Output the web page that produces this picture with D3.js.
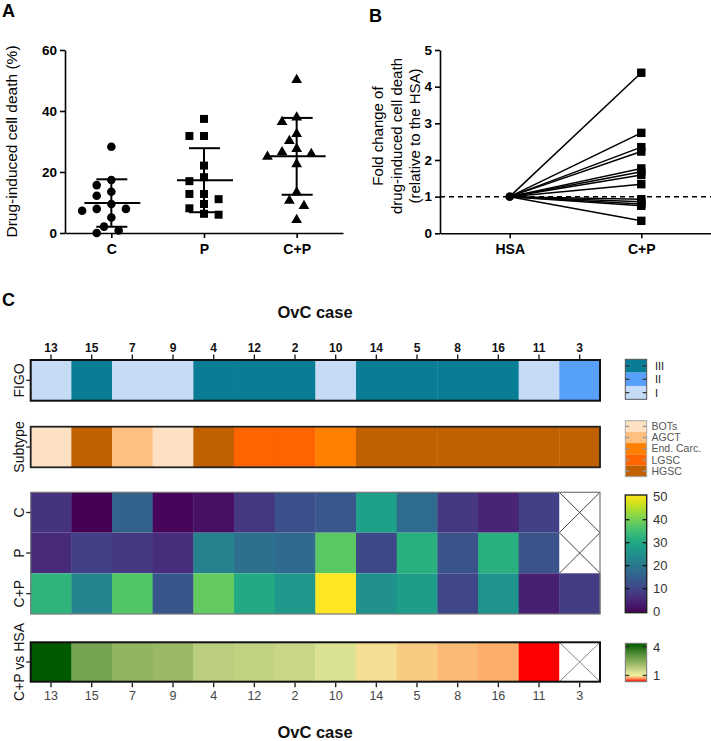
<!DOCTYPE html>
<html>
<head>
<meta charset="utf-8">
<script src="https://cdn.jsdelivr.net/npm/d3@7"></script>
<style>
  body { margin: 0; background: #fff; }
  svg { display: block; font-family: "Liberation Sans", Arial, sans-serif; }
</style>
</head>
<body>
<svg id="chart" width="711" height="741"></svg>
<script>
// ---------------- DATA ----------------
const cases   = ["13","15","7","9","4","12","2","10","14","5","8","16","11","3"];
const figo    = ["I","III","I","I","III","III","III","I","III","III","III","III","I","II"];
const subtype = ["BOTs","HGSC","AGCT","BOTs","HGSC","LGSC","LGSC","End. Carc.","HGSC","HGSC","HGSC","HGSC","HGSC","HGSC"];
const deathC  = [7.3, 0.0, 15.7, 0.8, 2.1, 7.9, 12.2, 13.5, 28.3, 17.4, 7.9, 5.1, 9.5, null];
const deathP  = [6.0, 9.5, 8.1, 6.3, 22.1, 18.3, 17.0, 37.4, 11.1, 31.8, 12.8, 31.8, 12.8, null];
const deathCP = [32.5, 22.6, 36.4, 13.3, 37.9, 30.2, 26.5, 50.2, 25.0, 27.6, 10.6, 25.9, 4.3, 8.9];
const foldHSA = [4.38, 2.74, 2.35, 2.23, 1.77, 1.68, 1.59, 1.34, 0.93, 0.86, 0.80, 0.75, 0.34, null];

const groupsA   = ["C", "P", "C+P"];
const ticksA    = [0, 20, 40, 60];
const groupsB   = ["HSA", "C+P"];
const ticksB    = [0, 1, 2, 3, 4, 5];
const figoLevels = ["III", "II", "I"];
const subtypeLevels = ["BOTs", "AGCT", "End. Carc.", "LGSC", "HGSC"];
const viridisTicks = [0, 10, 20, 30, 40, 50];
const foldTicks = [1, 4];

// ---------------- SETUP ----------------
const svg = d3.select("#chart");
const FONT = '"Liberation Sans", Arial, sans-serif';

function styleAxis(g, opts = {}) {
  g.select(".domain").attr("stroke", "#000").attr("stroke-width", 1.6);
  g.selectAll(".tick line").attr("stroke", "#000").attr("stroke-width", 1.6);
  g.selectAll(".tick text").attr("fill", "#000").attr("font-weight", "bold")
    .attr("font-size", opts.size || 13.5).attr("font-family", FONT);
}

function swarm(vals, yScale, cx, step, minDist) {
  const pts = vals.map(v => ({ v, y: yScale(v) })).sort((a, b) => a.y - b.y);
  const placed = [];
  for (const p of pts) {
    for (let k = 0; k < 30; k++) {
      const off = (k === 0 ? 0 : (k % 2 === 1 ? -1 : 1) * Math.ceil(k / 2)) * step;
      if (placed.every(q => Math.hypot(q.x - (cx + off), q.y - p.y) >= minDist)) { p.x = cx + off; break; }
    }
    placed.push(p);
  }
  return placed;
}

// ---------------- PANEL A ----------------
const xA = d3.scalePoint().domain(groupsA).range([65, 343]).padding(0.5);
const yA = d3.scaleLinear().domain([0, 60]).range([233, 50]);

svg.append("text").attr("x", 2).attr("y", 17).text("A")
  .attr("font-size", 18).attr("font-weight", "bold");

const gxA = svg.append("g").attr("transform", "translate(0,233)")
  .call(d3.axisBottom(xA).tickSize(5).tickPadding(6).tickSizeOuter(0));
styleAxis(gxA, { size: 14 });
const gyA = svg.append("g").attr("transform", "translate(65,0)")
  .call(d3.axisLeft(yA).tickValues(ticksA).tickSize(5).tickPadding(3).tickSizeOuter(0));
styleAxis(gyA, { size: 13.5 });

svg.append("text")
  .attr("transform", `translate(17,${(50 + 233) / 2}) rotate(-90)`)
  .attr("text-anchor", "middle").attr("font-size", 15.5).attr("fill", "#000")
  .text("Drug-induced cell death (%)");

const seriesA = [deathC, deathP, deathCP].map(a => a.filter(v => v !== null));
const symA = [d3.symbolCircle, d3.symbolSquare, d3.symbolTriangle];
const symSize = [58, 64, 50];

seriesA.forEach((vals, i) => {
  const cx = xA(groupsA[i]);
  const pts = swarm(vals, yA, cx, 7.3, 9.6);
  svg.append("g").selectAll("path").data(pts).join("path")
    .attr("transform", d => `translate(${d.x},${d.y})`)
    .attr("d", d3.symbol().type(symA[i]).size(symSize[i]))
    .attr("fill", "#000");
  const m = d3.mean(vals), sd = d3.deviation(vals);
  const eb = svg.append("g").attr("stroke", "#000").attr("stroke-width", 2).attr("fill", "none");
  eb.append("line").attr("x1", cx - 27).attr("x2", cx + 29).attr("y1", yA(m)).attr("y2", yA(m));
  eb.append("line").attr("x1", cx).attr("x2", cx).attr("y1", yA(m - sd)).attr("y2", yA(m + sd));
  eb.append("line").attr("x1", cx - 15).attr("x2", cx + 16).attr("y1", yA(m + sd)).attr("y2", yA(m + sd));
  eb.append("line").attr("x1", cx - 15).attr("x2", cx + 16).attr("y1", yA(m - sd)).attr("y2", yA(m - sd));
});

// ---------------- PANEL B ----------------
const xB = d3.scalePoint().domain(groupsB).range([440, 711]).padding(0.53);
const yB = d3.scaleLinear().domain([0, 5]).range([233.3, 50]);

svg.append("text").attr("x", 369).attr("y", 22).text("B")
  .attr("font-size", 18).attr("font-weight", "bold");

const gxB = svg.append("g").attr("transform", "translate(0,233.3)")
  .call(d3.axisBottom(xB).tickSize(5).tickPadding(6).tickSizeOuter(0));
styleAxis(gxB, { size: 14 });
const gyB = svg.append("g").attr("transform", "translate(440,0)")
  .call(d3.axisLeft(yB).tickValues(ticksB).tickFormat(d3.format("d")).tickSize(5).tickPadding(3).tickSizeOuter(0));
styleAxis(gyB, { size: 13.5 });

const titleB = ["Fold change of", "drug-induced cell death", "(relative to the HSA)"];
titleB.forEach((t, i) => {
  svg.append("text")
    .attr("transform", `translate(${383 + i * 18.5},${136}) rotate(-90)`)
    .attr("text-anchor", "middle").attr("font-size", 15).attr("fill", "#000").text(t);
});

svg.append("line").attr("x1", 440).attr("x2", 711).attr("y1", yB(1)).attr("y2", yB(1))
  .attr("stroke", "#000").attr("stroke-width", 1.5).attr("stroke-dasharray", "5,4");

const foldVals = foldHSA.filter(v => v !== null);
svg.append("g").selectAll("line").data(foldVals).join("line")
  .attr("x1", xB("HSA")).attr("y1", yB(1))
  .attr("x2", xB("C+P")).attr("y2", d => yB(d))
  .attr("stroke", "#000").attr("stroke-width", 1.5);
svg.append("g").selectAll("rect").data(foldVals).join("rect")
  .attr("x", xB("C+P") - 4.2).attr("y", d => yB(d) - 4.2)
  .attr("width", 8.4).attr("height", 8.4).attr("fill", "#000");
svg.append("circle").attr("cx", xB("HSA")).attr("cy", yB(1)).attr("r", 4.3).attr("fill", "#000");

// ---------------- PANEL C (heatmaps) ----------------
svg.append("text").attr("x", 2).attr("y", 306).text("C")
  .attr("font-size", 18).attr("font-weight", "bold");

const xH = d3.scaleBand().domain(cases).range([30.7, 600]).padding(0);
const bw = xH.bandwidth();

svg.append("text").attr("x", 315).attr("y", 318).attr("text-anchor", "middle")
  .attr("font-size", 16.5).attr("font-weight", "bold").attr("fill", "#111").text("OvC case");
svg.append("text").attr("x", 315).attr("y", 738).attr("text-anchor", "middle")
  .attr("font-size", 16.5).attr("font-weight", "bold").attr("fill", "#111").text("OvC case");

const figoColor = d3.scaleOrdinal().domain(["I", "II", "III"]).range(["#c6dcf6", "#56a0fa", "#0a7d96"]);
const subColor = d3.scaleOrdinal().domain(subtypeLevels)
  .range(["#fee0c2", "#ffbf80", "#ff8000", "#ff6400", "#c06000"]);
const vir = d3.scaleSequential(d3.interpolateViridis).domain([0, 50]);
const foldColor = d3.scaleLinear().domain([0.34, 0.75, 1, 4.38])
  .range(["#ff0000", "#fdae6b", "#f2f0a2", "#005a00"]);

const rowY = {
  FIGO: [360, 400.7],
  Subtype: [426.7, 467.3],
  C: [492.3, 532.7],
  P: [532.7, 573.3],
  "C+P": [573.3, 614],
  fold: [642.3, 681.7]
};

function drawCells(key, vals, colorFn, naStroke) {
  const [y0, y1] = rowY[key];
  const g = svg.append("g");
  vals.forEach((v, i) => {
    const x = xH(cases[i]);
    if (v === null) {
      g.append("rect").attr("x", x).attr("y", y0).attr("width", bw).attr("height", y1 - y0).attr("fill", "#fff");
      g.append("line").attr("x1", x).attr("y1", y0).attr("x2", x + bw).attr("y2", y1)
        .attr("stroke", naStroke).attr("stroke-width", 1);
      g.append("line").attr("x1", x + bw).attr("y1", y0).attr("x2", x).attr("y2", y1)
        .attr("stroke", naStroke).attr("stroke-width", 1);
    } else {
      g.append("rect").attr("x", x).attr("y", y0).attr("width", bw + 0.4).attr("height", y1 - y0)
        .attr("fill", colorFn(v));
    }
  });
}

drawCells("FIGO", figo, figoColor, "#444");
drawCells("Subtype", subtype, subColor, "#444");
drawCells("C", deathC, vir, "#444");
drawCells("P", deathP, vir, "#444");
drawCells("C+P", deathCP, vir, "#444");
drawCells("fold", foldHSA, foldColor, "#888");

function frame(y0, y1, stroke, w) {
  svg.append("rect").attr("x", 30.7).attr("y", y0).attr("width", 600 - 30.7).attr("height", y1 - y0)
    .attr("fill", "none").attr("stroke", stroke).attr("stroke-width", w);
}
frame(rowY.FIGO[0], rowY.FIGO[1], "#111", 2);
frame(rowY.Subtype[0], rowY.Subtype[1], "#222", 1.8);
frame(rowY.C[0], rowY["C+P"][1], "#777", 1.2);
frame(rowY.fold[0], rowY.fold[1], "#111", 2);

// top axis
const gTop = svg.append("g").attr("transform", `translate(0,${rowY.FIGO[0] - 1})`)
  .call(d3.axisTop(xH).tickSize(4.5).tickPadding(3));
gTop.select(".domain").remove();
gTop.selectAll(".tick line").attr("stroke", "#222").attr("stroke-width", 1.4);
gTop.selectAll(".tick text").attr("font-size", 12).attr("font-weight", "bold").attr("fill", "#111")
  .attr("font-family", FONT);

// bottom axis
const gBot = svg.append("g").attr("transform", `translate(0,${rowY.fold[1] + 1})`)
  .call(d3.axisBottom(xH).tickSize(4.5).tickPadding(4));
gBot.select(".domain").remove();
gBot.selectAll(".tick line").attr("stroke", "#222").attr("stroke-width", 1.4);
gBot.selectAll(".tick text").attr("font-size", 12.5).attr("fill", "#444").attr("font-family", FONT);

// row labels + left ticks
const rowLabels = [
  { key: "FIGO", text: "FIGO" },
  { key: "Subtype", text: "Subtype" },
  { key: "C", text: "C" },
  { key: "P", text: "P" },
  { key: "C+P", text: "C+P" },
  { key: "fold", text: "C+P vs HSA" }
];
rowLabels.forEach(r => {
  const yc = (rowY[r.key][0] + rowY[r.key][1]) / 2;
  svg.append("line").attr("x1", 26.2).attr("x2", 30.7).attr("y1", yc).attr("y2", yc)
    .attr("stroke", "#222").attr("stroke-width", 1.3);
  svg.append("text").attr("transform", `translate(23.5,${yc}) rotate(-90)`)
    .attr("text-anchor", "middle").attr("font-size", 14).attr("fill", "#111").text(r.text);
});

// ---------------- LEGENDS ----------------
const LX = 625.3, LW = 21.4;

function legendTicks(ys, color) {
  ys.forEach(y => {
    svg.append("line").attr("x1", LX).attr("x2", LX + 4).attr("y1", y).attr("y2", y)
      .attr("stroke", color).attr("stroke-width", 1.3);
    svg.append("line").attr("x1", LX + LW - 4).attr("x2", LX + LW).attr("y1", y).attr("y2", y)
      .attr("stroke", color).attr("stroke-width", 1.3);
  });
}

// FIGO legend
const yF = d3.scaleBand().domain(figoLevels).range([359.3, 399.3]);
svg.append("g").selectAll("rect").data(figoLevels).join("rect")
  .attr("x", LX).attr("y", d => yF(d)).attr("width", LW).attr("height", yF.bandwidth())
  .attr("fill", d => figoColor(d));
svg.append("rect").attr("x", LX).attr("y", 359.3).attr("width", LW).attr("height", 40)
  .attr("fill", "none").attr("stroke", "#555").attr("stroke-width", 1);
legendTicks(figoLevels.map(d => yF(d) + yF.bandwidth() / 2), "#333");
svg.append("g").selectAll("text").data(figoLevels).join("text")
  .attr("x", 655).attr("y", d => yF(d) + yF.bandwidth() / 2).attr("dy", "0.36em")
  .attr("font-size", 11).attr("fill", "#222").text(d => d);

// Subtype legend
const yS = d3.scaleBand().domain(subtypeLevels).range([420.7, 476.7]);
svg.append("g").selectAll("rect").data(subtypeLevels).join("rect")
  .attr("x", LX).attr("y", d => yS(d)).attr("width", LW).attr("height", yS.bandwidth())
  .attr("fill", d => subColor(d));
svg.append("rect").attr("x", LX).attr("y", 420.7).attr("width", LW).attr("height", 56)
  .attr("fill", "none").attr("stroke", "#aaa").attr("stroke-width", 1);
legendTicks(subtypeLevels.map(d => yS(d) + yS.bandwidth() / 2), "#999");
svg.append("g").selectAll("text").data(subtypeLevels).join("text")
  .attr("x", 651.5).attr("y", d => yS(d) + yS.bandwidth() / 2).attr("dy", "0.36em")
  .attr("font-size", 10.5).attr("fill", "#555").text(d => d);

// Viridis colorbar
const defs = svg.append("defs");
const gv = defs.append("linearGradient").attr("id", "gradVir")
  .attr("x1", 0).attr("y1", 1).attr("x2", 0).attr("y2", 0);
d3.range(0, 51, 2.5).forEach(v => {
  gv.append("stop").attr("offset", v / 50).attr("stop-color", vir(v));
});
const yV = d3.scaleLinear().domain([0, 50]).range([611.7, 496.7]);
svg.append("rect").attr("x", LX).attr("y", 495).attr("width", LW).attr("height", 117.7)
  .attr("fill", "url(#gradVir)").attr("stroke", "#222").attr("stroke-width", 1.4);
legendTicks([10, 20, 30, 40].map(yV), "#111");
svg.append("g").selectAll("text").data(viridisTicks).join("text")
  .attr("x", 653).attr("y", d => yV(d)).attr("dy", "0.36em")
  .attr("font-size", 13).attr("fill", "#333").text(d => d);

// Fold colorbar
const yFold = d3.scaleLinear().domain([0.34, 4.38]).range([681.7, 643.3]);
const gf = defs.append("linearGradient").attr("id", "gradFold")
  .attr("x1", 0).attr("y1", 1).attr("x2", 0).attr("y2", 0);
d3.range(0, 1.0001, 0.02).forEach(t => {
  const v = 0.34 + t * (4.38 - 0.34);
  gf.append("stop").attr("offset", t).attr("stop-color", foldColor(v));
});
svg.append("rect").attr("x", LX).attr("y", 643.3).attr("width", LW).attr("height", 38.4)
  .attr("fill", "url(#gradFold)").attr("stroke", "#777").attr("stroke-width", 1);
legendTicks(foldTicks.map(yFold), "#333");
svg.append("g").selectAll("text").data(foldTicks).join("text")
  .attr("x", 653).attr("y", d => yFold(d)).attr("dy", "0.36em")
  .attr("font-size", 13).attr("fill", "#333").text(d => d);
</script>
</body>
</html>
